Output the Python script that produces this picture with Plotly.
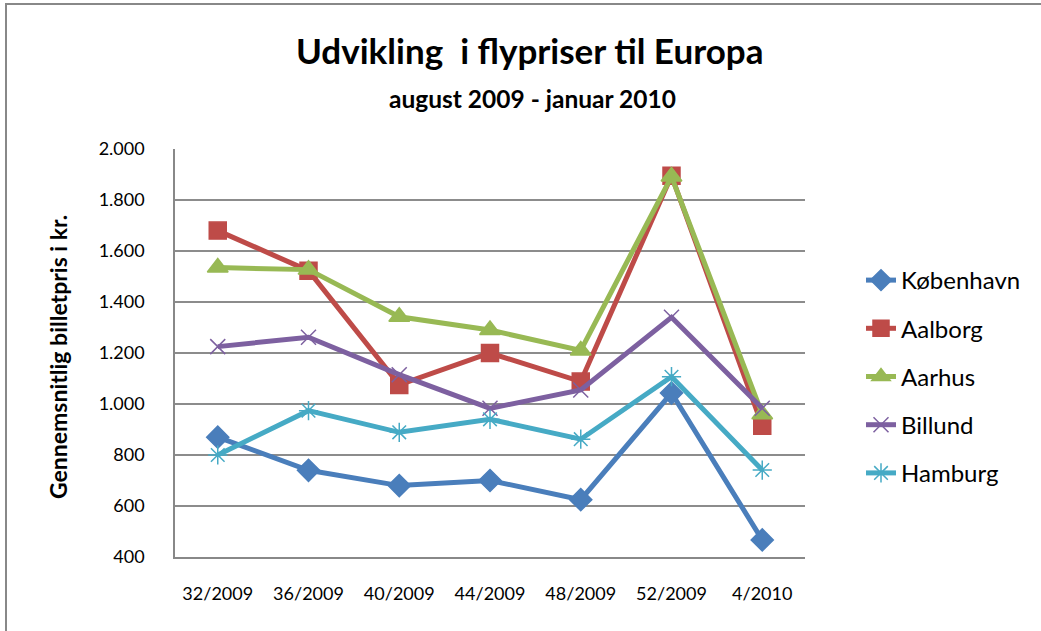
import plotly.graph_objects as go

categories = ["32/2009", "36/2009", "40/2009", "44/2009", "48/2009", "52/2009", "4/2010"]
kobenhavn = [870, 740, 680, 700, 625, 1043, 467]
aalborg = [1680, 1523, 1075, 1200, 1088, 1895, 915]
aarhus = [1535, 1527, 1342, 1290, 1210, 1892, 960]
billund = [1225, 1262, 1115, 983, 1055, 1340, 983]
hamburg = [800, 974, 889, 940, 862, 1107, 741]

series = [
    ("København", kobenhavn, "#4A7EBB", "diamond", 17),
    ("Aalborg", aalborg, "#BE4B48", "square", 17),
    ("Aarhus", aarhus, "#98B954", "triangle-up", 18),
    ("Billund", billund, "#7D60A0", "x-thin-open", 15),
    ("Hamburg", hamburg, "#46AAC5", "asterisk-open", 16),
]

font = "Lato, 'Open Sans', sans-serif"

# plot-area geometry in page pixels (used only to place text/frame)
L, R, T, B = 175, 805, 149, 557
W, H = R - L, B - T
def px(x):
    return (x - L) / W
def py(y):
    return (B - y) / H

fig = go.Figure()
for name, vals, color, sym, size in series:
    fig.add_trace(go.Scatter(
        x=categories, y=vals, name=name, legendgroup=name,
        mode="lines+markers",
        line=dict(color=color, width=5),
        marker=dict(symbol=sym, size=size, color=color,
                    line=dict(color=color, width=1.5)),
    ))

fig.update_layout(
    width=1041, height=631,
    margin=dict(l=L, r=1041 - R, t=T, b=631 - B),
    paper_bgcolor="white", plot_bgcolor="white",
    separators=",.",
    font=dict(family=font, color="#000000"),
    legend=dict(
        x=px(861), xanchor="left", y=py(376.5), yanchor="middle",
        font=dict(size=24, family=font),
        tracegroupgap=14, bgcolor="rgba(0,0,0,0)",
    ),
    showlegend=True,
)

fig.add_annotation(text="<b>Udvikling  i flypriser til Europa</b>", xref="paper", yref="paper",
                   x=px(529), y=py(50), xanchor="center", yanchor="middle", showarrow=False,
                   font=dict(size=35, family=font))
fig.add_annotation(text="<b>august 2009 - januar 2010</b>", xref="paper", yref="paper",
                   x=px(532), y=py(98), xanchor="center", yanchor="middle", showarrow=False,
                   font=dict(size=24.5, family=font))
fig.add_annotation(text="<b>Gennemsnitlig billetpris i kr.</b>", xref="paper", yref="paper",
                   x=px(58), y=py(357), xanchor="center", yanchor="middle", showarrow=False,
                   textangle=-90, font=dict(size=23, family=font))

fig.update_xaxes(
    type="category", showgrid=False,
    showline=True, linecolor="#888888", linewidth=1.5,
    tickfont=dict(size=18, family=font), ticks="",
    ticklabelstandoff=20,
)
fig.update_yaxes(
    range=[400, 2000], dtick=200, tickformat=",d",
    showgrid=True, gridcolor="#8c8c8c", gridwidth=1.5,
    showline=True, linecolor="#888888", linewidth=1.5,
    tickfont=dict(size=18, family=font), ticks="",
    ticklabelstandoff=25, zeroline=False,
)

# outer chart border
fig.add_shape(type="rect", xref="paper", yref="paper",
              x0=px(6), x1=px(1100), y0=py(700), y1=py(4),
              line=dict(color="#888888", width=2), fillcolor="rgba(0,0,0,0)", layer="below")

fig.write_html("out.html", config={"displayModeBar": False},
               post_script="document.body.style.margin='0px';")
